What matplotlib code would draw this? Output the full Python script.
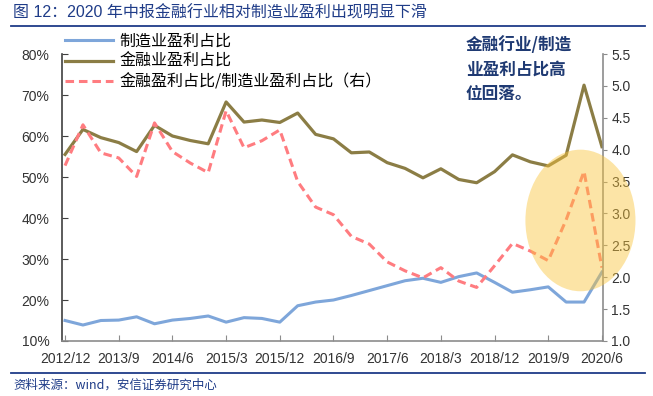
import numpy as np
import matplotlib
matplotlib.use("Agg")
import matplotlib.pyplot as plt
from matplotlib.patches import Ellipse
from matplotlib.lines import Line2D
from matplotlib.ticker import FuncFormatter, MultipleLocator

plt.rcParams["font.family"] = ["Liberation Sans", "Noto Sans CJK SC"]

# quarterly, 2012/12 .. 2020/6
quarters = ["2012/12", "2013/3", "2013/6", "2013/9", "2013/12", "2014/3", "2014/6",
            "2014/9", "2014/12", "2015/3", "2015/6", "2015/9", "2015/12", "2016/3",
            "2016/6", "2016/9", "2016/12", "2017/3", "2017/6", "2017/9", "2017/12",
            "2018/3", "2018/6", "2018/9", "2018/12", "2019/3", "2019/6", "2019/9",
            "2019/12", "2020/3", "2020/6"]

# 制造业盈利占比 (%)
manuf_share = [15.0, 13.9, 15.0, 15.1, 15.9, 14.2, 15.1, 15.5, 16.1, 14.6, 15.7,
               15.5, 14.6, 18.6, 19.5, 20.0, 21.1, 22.3, 23.5, 24.7, 25.3, 24.3,
               25.7, 26.6, 24.3, 21.9, 22.5, 23.2, 19.5, 19.5, 26.8]
# 金融业盈利占比 (%)
fin_share = [55.5, 61.6, 59.6, 58.4, 56.2, 62.6, 60.0, 58.9, 58.1, 68.3, 63.4,
             63.9, 63.3, 65.6, 60.4, 59.3, 55.9, 56.1, 53.5, 52.1, 49.8, 52.0,
             49.4, 48.6, 51.3, 55.4, 53.7, 52.7, 55.3, 72.4, 57.4]
# 金融/制造 (右轴)
ratio = [3.75, 4.39, 3.95, 3.87, 3.58, 4.42, 3.97, 3.79, 3.64, 4.61, 4.03,
         4.14, 4.31, 3.50, 3.10, 2.98, 2.64, 2.52, 2.24, 2.10, 1.99, 2.15,
         1.94, 1.84, 2.18, 2.53, 2.41, 2.26, 2.90, 3.66, 2.15]

c_blue = "#7EA6DA"
c_gold = "#8B7D45"
c_red = "#FF7C80"
c_navy = "#1F3C88"
cjk = ["Noto Sans CJK SC", "DejaVu Sans"]

x = np.arange(len(quarters))

fig = plt.figure(figsize=(6.53, 3.96), dpi=100)
ax = fig.add_axes([62 / 653, 1 - 341 / 396, 541 / 653, 287 / 396])
ax2 = ax.twinx()

l1, = ax.plot(x, manuf_share, color=c_blue, lw=2.2, label="制造业盈利占比")
l2, = ax.plot(x, fin_share, color=c_gold, lw=2.3, label="金融业盈利占比")
l3, = ax2.plot(x, ratio, color=c_red, lw=2.2, linestyle=(0, (2.8, 1.6)),
               label="金融盈利占比/制造业盈利占比（右）")

# highlight circle round the recent drop
hl_center, hl_w, hl_h = (28.8, 2.89), 6.15, 2.22
ax2.add_patch(Ellipse(hl_center, hl_w, hl_h, facecolor="#F9C43A", alpha=0.45,
                      edgecolor="none", zorder=5, clip_on=False))

ax.set_xlim(-0.17, 30.06)
ax.set_ylim(10, 80)
ax2.set_ylim(1.0, 5.5)
ax.yaxis.set_major_locator(MultipleLocator(10))
ax.yaxis.set_major_formatter(FuncFormatter(lambda v, p: "%d%%" % v))
ax2.yaxis.set_major_locator(MultipleLocator(0.5))
ax2.yaxis.set_major_formatter(FuncFormatter(lambda v, p: "%.1f" % v))
ax.set_xticks(x[::3])
ax.set_xticklabels(quarters[::3])

for a in (ax, ax2):
    a.spines["top"].set_visible(False)
ax2.spines["left"].set_visible(False)
ax2.spines["bottom"].set_visible(False)
ax.spines["right"].set_visible(False)
ax.spines["left"].set_color("#404040")
ax.spines["bottom"].set_color("#8C8C8C")
ax2.spines["right"].set_color("#8C8C8C")
for s in (ax.spines["left"], ax.spines["bottom"], ax2.spines["right"]):
    s.set_linewidth(1.2)

ax.tick_params(axis="y", direction="in", length=4, pad=9, labelsize=10,
               colors="#404040", labelcolor="#333333")
ax.tick_params(axis="x", direction="in", length=4, pad=8, labelsize=10,
               colors="#8C8C8C", labelcolor="#333333")
ax2.tick_params(axis="y", direction="out", length=3, pad=3, labelsize=10,
                colors="#8C8C8C", labelcolor="#333333")

leg = ax.legend(handles=[l1, l2, l3], loc="upper left",
                bbox_to_anchor=(65 / 653, 1 - 33 / 396), bbox_transform=fig.transFigure,
                frameon=False, borderpad=0, borderaxespad=0, handlelength=3.0,
                handletextpad=0.4, labelspacing=0.2,
                prop={"family": cjk, "size": 11.5})
leg.set_zorder(10)

fig.text(466 / 653, 1 - 36 / 396, "金融行业/制造\n业盈利占比高\n位回落。", va="top", ha="left",
         fontsize=12, weight="bold", color="#1F3A73", family=cjk, linespacing=1.45)

fig.text(13 / 653, 1 - 13 / 396, "图 12：2020 年中报金融行业相对制造业盈利出现明显下滑",
         va="center", ha="left", fontsize=11.5, color=c_navy)
fig.add_artist(Line2D([11 / 653, 645 / 653], [1 - 26 / 396] * 2, color=c_navy, lw=1.3))
fig.add_artist(Line2D([11 / 653, 645 / 653], [1 - 373 / 396] * 2, color=c_navy, lw=1.3))
fig.text(13 / 653, 1 - 385 / 396, "资料来源：wind，安信证券研究中心", va="center", ha="left",
         fontsize=9, style="italic", color=c_navy, family=cjk)

fig.savefig("out.png", dpi=100)
